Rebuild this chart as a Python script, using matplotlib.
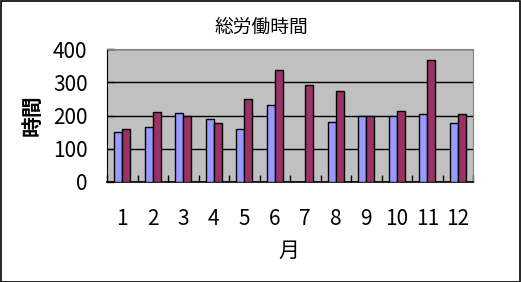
import matplotlib.pyplot as plt
import numpy as np

plt.rcParams['font.family'] = ['Noto Sans CJK JP', 'DejaVu Sans']

months = ['1', '2', '3', '4', '5', '6', '7', '8', '9', '10', '11', '12']
series_a = [150, 165, 207, 189, 159, 231, 0, 180, 200, 200, 204, 177]
series_b = [159, 210, 198, 177, 249, 336, 291, 273, 200, 213, 366, 204]

W, H = 521, 282
fig = plt.figure(figsize=(W / 100, H / 100), dpi=100)
ax = fig.add_axes([107 / W, 100 / H, 366 / W, 133 / H])
ax.set_facecolor('#C0C0C0')

x = np.arange(1, len(months) + 1)
bw = 0.27
ax.bar(x - bw / 2, series_a, bw, color='#9999FF', edgecolor='black', linewidth=1, zorder=3)
ax.bar(x + bw / 2, series_b, bw, color='#993366', edgecolor='black', linewidth=1, zorder=3)

ax.set_xlim(0.5, 12.5)
ax.set_ylim(0, 400)
ax.set_yticks([0, 100, 200, 300, 400])
ax.yaxis.grid(True, color='black', linewidth=1, zorder=1)
ax.set_axisbelow(True)

ax.set_xticks(x)
ax.set_xticklabels(months)
ax.set_xticks(np.arange(0.5, 13, 1), minor=True)
ax.tick_params(axis='x', which='major', length=0, pad=19, labelsize=15)
ax.tick_params(axis='x', which='minor', direction='in', length=5, width=1)
ax.tick_params(axis='y', direction='in', length=5, width=1, pad=14, labelsize=15)

for s in ['top', 'right']:
    ax.spines[s].set_color('#808080')
ax.spines['left'].set_color('black')
ax.spines['bottom'].set_color('black')
ax.spines['bottom'].set_linewidth(1.2)

fig.text(261 / W, 1 - 27 / H, '総労働時間', ha='center', va='center', fontsize=13.5)
fig.text(32 / W, 1 - 115 / H, '時間', ha='center', va='center', rotation=90,
         fontsize=15, fontweight='bold')
fig.text(289 / W, 1 - 251 / H, '月', ha='center', va='center', fontsize=15)

border = plt.Rectangle((0.5 / W, 0.5 / H), 1 - 1.5 / W, 1 - 1.5 / H, transform=fig.transFigure,
                       fill=False, edgecolor='black', linewidth=1.2)
fig.patches.append(border)

fig.savefig('out.png', dpi=100)
